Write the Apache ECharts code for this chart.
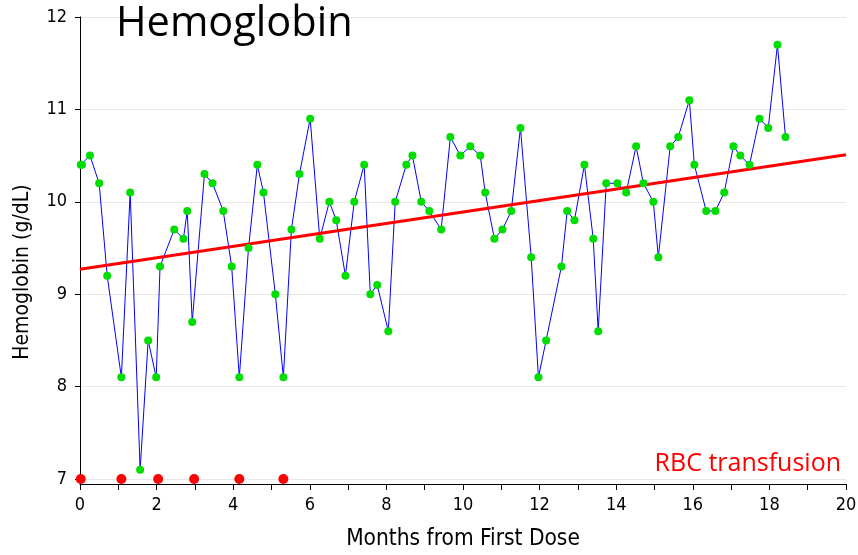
<!DOCTYPE html>
<html>
<head>
<meta charset="utf-8">
<script src="https://cdn.jsdelivr.net/npm/echarts@6/dist/echarts.min.js"></script>
<style>
  html, body { margin: 0; padding: 0; background: #fff; }
  #main { width: 858px; height: 555px; }
</style>
</head>
<body>
<div id="main"></div>
<script>
// month, hemoglobin (g/dL)
var months = [0.02, 0.05, 0.26, 0.50, 0.71, 1.08, 1.31, 1.57, 1.78, 1.99, 2.09, 2.46, 2.70, 2.80, 2.93,
  3.25, 3.46, 3.74, 3.96, 4.16, 4.40, 4.63, 4.79, 5.10, 5.31, 5.52, 5.73, 6.01, 6.26, 6.51, 6.69,
  6.93, 7.16, 7.42, 7.58, 7.76, 8.05, 8.23, 8.52, 8.68, 8.91, 9.12, 9.43, 9.67, 9.93, 10.19, 10.45,
  10.58, 10.82, 11.03, 11.26, 11.50, 11.78, 11.97, 12.17, 12.57, 12.72, 12.91, 13.17, 13.40, 13.53,
  13.74, 14.03, 14.26, 14.52, 14.71, 14.97, 15.10, 15.41, 15.62, 15.91, 16.04, 16.35, 16.59, 16.82,
  17.06, 17.24, 17.48, 17.74, 17.97, 18.21, 18.42];
var hgb = [10.4, 10.4, 10.5, 10.2, 9.2, 8.1, 10.1, 7.1, 8.5, 8.1, 9.3, 9.7, 9.6, 9.9, 8.7,
  10.3, 10.2, 9.9, 9.3, 8.1, 9.5, 10.4, 10.1, 9.0, 8.1, 9.7, 10.3, 10.9, 9.6, 10.0, 9.8,
  9.2, 10.0, 10.4, 9.0, 9.1, 8.6, 10.0, 10.4, 10.5, 10.0, 9.9, 9.7, 10.7, 10.5, 10.6, 10.5,
  10.1, 9.6, 9.7, 9.9, 10.8, 9.4, 8.1, 8.5, 9.3, 9.9, 9.8, 10.4, 9.6, 8.6,
  10.2, 10.2, 10.1, 10.6, 10.2, 10.0, 9.4, 10.6, 10.7, 11.1, 10.4, 9.9, 9.9, 10.1,
  10.6, 10.5, 10.4, 10.9, 10.8, 11.7, 10.7];
// transfusion months (drawn on the 7 line)
var transfusions = [0.02, 1.08, 2.04, 2.98, 4.16, 5.31];
// fitted trend endpoints
var trendX = [0, 20];
var trendY = [9.27, 10.51];

var pts = months.map(function (m, i) { return [m, hgb[i]]; });
var rbc = transfusions.map(function (m) { return [m, 7]; });
var trend = trendX.map(function (m, i) { return [m, trendY[i]]; });

var axisFont = 'DejaVu Sans Condensed';
var chart = echarts.init(document.getElementById('main'));
chart.setOption({
  animation: false,
  grid: { left: 80, right: 12, top: 17, bottom: 76, outerBoundsMode: 'none', containLabel: false },
  title: {
    text: 'Hemoglobin', left: 111, top: -2,
    textStyle: { fontFamily: 'Open Sans', fontSize: 41.5, fontWeight: 'normal', color: '#000' }
  },
  graphic: [{
    type: 'text', right: 17, top: 451,
    style: { text: 'RBC transfusion', fill: '#ff0000', font: '25px "Open Sans"' }
  }],
  xAxis: {
    type: 'value', min: 0, max: 20, interval: 1, offset: 5,
    name: 'Months from First Dose', nameLocation: 'middle', nameGap: 44,
    nameTextStyle: { fontFamily: axisFont, fontSize: 22.5, color: '#000' },
    axisLine: { onZero: false, lineStyle: { color: '#000', width: 1 } },
    axisTick: { length: 6, lineStyle: { color: '#000' } },
    axisLabel: {
      fontFamily: axisFont, fontSize: 18, color: '#000', margin: 12,
      formatter: function (v) { return v % 2 === 0 ? String(v) : ''; }
    },
    splitLine: { show: false }
  },
  yAxis: {
    type: 'value', min: 7, max: 12, interval: 1, offset: 3,
    name: 'Hemoglobin (g/dL)', nameLocation: 'middle', nameGap: 44,
    nameTextStyle: { fontFamily: axisFont, fontSize: 21, color: '#000', padding: [0, 48, 0, 0] },
    axisLine: { show: true, lineStyle: { color: '#000', width: 1 } },
    axisTick: { show: true, length: 5, lineStyle: { color: '#000' } },
    axisLabel: { fontFamily: axisFont, fontSize: 18, color: '#000', margin: 10 },
    splitLine: { show: true, lineStyle: { color: '#e8e8e8', width: 1 } }
  },
  series: [
    {
      type: 'line', data: pts, showSymbol: false, z: 1,
      lineStyle: { color: '#0000ff', width: 1 }
    },
    {
      type: 'line', data: trend, showSymbol: false, z: 2,
      lineStyle: { color: '#ff0000', width: 3 }
    },
    {
      type: 'scatter', data: pts, symbolSize: 8, z: 3,
      itemStyle: { color: '#00dd00', opacity: 1 }
    },
    {
      type: 'scatter', data: rbc, symbolSize: 10, z: 4, clip: false,
      itemStyle: { color: '#ff0000', opacity: 1 }
    }
  ]
});
</script>
</body>
</html>
